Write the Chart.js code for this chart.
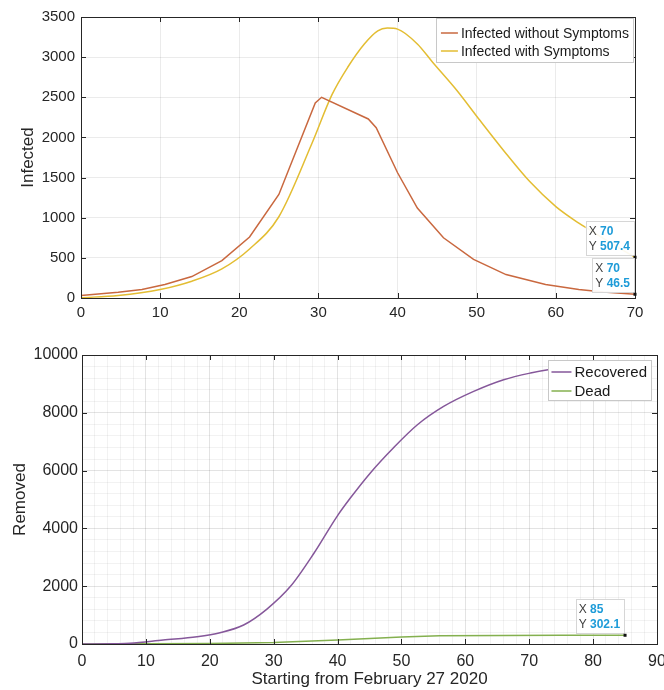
<!DOCTYPE html>
<html>
<head>
<meta charset="utf-8">
<script src="https://cdn.jsdelivr.net/npm/chart.js@4"></script>
<style>
  body { margin: 0; background: #fff; }
  .box { position: absolute; left: 0; width: 664px; }
</style>
</head>
<body>
<div class="box" style="top:0;height:330px"><canvas id="infChart"></canvas></div>
<div class="box" style="top:330px;height:360px"><canvas id="remChart"></canvas></div>
<script>
// top plot: infected
var asymDays = [0, 4.7, 7.7, 10.6, 14, 17.8, 21.3, 25, 29.6, 30.4, 36.3, 37.3, 40, 42.5, 45.8, 49.6, 53.7, 58.7, 62.9, 66, 70]
var asymCases = [31, 72, 106, 168, 267, 466, 760, 1290, 2430, 2500, 2230, 2120, 1560, 1120, 750, 480, 292, 169, 107, 75, 46.5]
var symDays = [0, 4.7, 10, 14, 17.8, 21.3, 25, 29.2, 31.7, 33.7, 35.8, 37.5, 38.7, 40, 42.5, 44.4, 47.5, 50.4, 53.7, 56.7, 60, 62.9, 64.6, 67, 70]
var symCases = [3, 31, 106, 209, 363, 611, 1012, 1930, 2530, 2874, 3164, 3328, 3362, 3349, 3164, 2940, 2585, 2213, 1800, 1450, 1139, 933, 829, 680, 507.4]
var infLabels = ['Infected without Symptoms', 'Infected with Symptoms']
var infTipX = [70, 70]
var infTipY = [507.4, 46.5]

// bottom plot: removed
var recDays = [0, 5, 7.5, 12.7, 18, 21.6, 25.3, 28.9, 32.6, 36.3, 39.9, 42, 45.1, 48.8, 52.5, 56.6, 61.3, 66, 70.2, 73.9, 79, 85]
var recovered = [0, 10, 23, 139, 254, 392, 658, 1200, 1986, 3140, 4410, 5050, 5912, 6800, 7586, 8220, 8740, 9144, 9376, 9525, 9660, 9760]
var deadDays = [0, 10, 20, 30, 40, 46.7, 50, 56, 66, 75, 85]
var dead = [0, 5, 15, 50, 140, 205, 240, 282, 298, 301, 302.1]
var remLabels = ['Recovered', 'Dead']
var remTipX = [85]
var remTipY = [302.1]

var FONT = '"Liberation Sans", Arial, sans-serif'
Chart.defaults.font.family = FONT
Chart.defaults.color = '#262626'

function pts(xs, ys) {
  return xs.map(function (x, i) { return {x: x, y: ys[i]} })
}

// matlab-ish box, inward ticks, legend and data tips
var frame = {
  id: 'frame',
  afterDatasetsDraw: function (chart, args, o) {
    var ctx = chart.ctx, a = chart.chartArea
    var xs = chart.scales.x, ys = chart.scales.y
    ctx.save()
    ctx.strokeStyle = '#262626'
    ctx.lineWidth = 1
    ctx.strokeRect(Math.round(a.left) + 0.5, Math.round(a.top) + 0.5, Math.round(a.right - a.left), Math.round(a.bottom - a.top))
    ctx.beginPath()
    xs.ticks.forEach(function (t) {
      if (t.value % o.majorX) return
      var p = Math.round(xs.getPixelForValue(t.value)) + 0.5
      ctx.moveTo(p, a.bottom); ctx.lineTo(p, a.bottom - 5)
      ctx.moveTo(p, a.top); ctx.lineTo(p, a.top + 5)
    })
    ys.ticks.forEach(function (t) {
      if (t.value % o.majorY) return
      var p = Math.round(ys.getPixelForValue(t.value)) + 0.5
      ctx.moveTo(a.left, p); ctx.lineTo(a.left + 5, p)
      ctx.moveTo(a.right, p); ctx.lineTo(a.right - 5, p)
    })
    ctx.stroke()

    // legend
    var lg = o.legend
    ctx.font = lg.size + 'px ' + FONT
    var tw = 0
    chart.data.datasets.forEach(function (d) { tw = Math.max(tw, ctx.measureText(d.label).width) })
    var w = lg.padL + lg.line + 3 + tw + lg.padR
    var lx = a.right - lg.right - w, ly = a.top + lg.top
    ctx.fillStyle = '#fff'
    ctx.fillRect(lx, ly, w, lg.h)
    ctx.strokeStyle = '#c8c8c8'
    ctx.strokeRect(Math.round(lx) + 0.5, Math.round(ly) + 0.5, Math.round(w), lg.h)
    chart.data.datasets.forEach(function (d, i) {
      var yy = ly + lg.rows[i]
      ctx.strokeStyle = d.borderColor
      ctx.lineWidth = 1.5
      ctx.beginPath()
      ctx.moveTo(lx + lg.padL, yy); ctx.lineTo(lx + lg.padL + lg.line, yy)
      ctx.stroke()
      ctx.fillStyle = '#1a1a1a'
      ctx.textBaseline = 'middle'
      ctx.fillText(d.label, lx + lg.padL + lg.line + 3, yy + 1)
    })

    // data tips, box sits just above-left of the point
    o.tipX.forEach(function (tx, i) {
      var px = xs.getPixelForValue(tx), py = ys.getPixelForValue(o.tipY[i])
      var v1 = String(tx), v2 = String(o.tipY[i])
      ctx.font = '12px ' + FONT
      var wx = ctx.measureText('X ').width, wy = ctx.measureText('Y ').width
      ctx.font = 'bold 12px ' + FONT
      var bw = Math.max(wx + ctx.measureText(v1).width, wy + ctx.measureText(v2).width) + 7
      var bh = 34
      var bx = px - bw - 1, by = py - bh - 2
      ctx.fillStyle = 'rgba(255,255,255,0.92)'
      ctx.fillRect(bx, by, bw, bh)
      ctx.strokeStyle = '#d6d6d6'
      ctx.lineWidth = 1
      ctx.strokeRect(Math.round(bx) + 0.5, Math.round(by) + 0.5, Math.round(bw), bh)
      ctx.textBaseline = 'middle'
      ctx.font = '12px ' + FONT
      ctx.fillStyle = '#404040'
      ctx.fillText('X ', bx + 3, by + 10)
      ctx.fillText('Y ', bx + 3, by + 25)
      ctx.font = 'bold 12px ' + FONT
      ctx.fillStyle = '#1d9bd8'
      ctx.fillText(v1, bx + 3 + wx, by + 10)
      ctx.fillText(v2, bx + 3 + wy, by + 25)
      ctx.fillStyle = '#111'
      ctx.fillRect(px - 1.5, py - 1.5, 3, 3)
    })
    ctx.restore()
  }
}

function lineSet(label, data, color, smooth) {
  var d = {label: label, data: data, borderColor: color, backgroundColor: color,
    borderWidth: 1.5, pointRadius: 0, tension: 0, fill: false}
  if (smooth) d.cubicInterpolationMode = 'monotone'
  return d
}

new Chart(document.getElementById('infChart'), {
  type: 'line',
  data: {
    datasets: [
      lineSet(infLabels[0], pts(asymDays, asymCases), '#c9683f', false),
      lineSet(infLabels[1], pts(symDays, symCases), '#e3bd32', true)
    ]
  },
  plugins: [frame],
  options: {
    responsive: true,
    maintainAspectRatio: false,
    animation: false,
    events: [],
    layout: {padding: {left: 14, right: 29, top: 17, bottom: 0}},
    scales: {
      x: {
        type: 'linear', min: 0, max: 70,
        border: {display: false},
        grid: {color: 'rgba(0,0,0,0.08)', drawTicks: false},
        ticks: {stepSize: 10, padding: 6, maxRotation: 0, font: {size: 15}},
        afterFit: function (s) { s.height = 32; s.paddingLeft = 0; s.paddingRight = 0 }
      },
      y: {
        min: 0, max: 3500,
        border: {display: false},
        grid: {color: 'rgba(0,0,0,0.08)', drawTicks: false},
        ticks: {stepSize: 500, padding: 6, font: {size: 15}, callback: function (v) { return String(v) }},
        title: {display: true, text: 'Infected', font: {size: 17}, padding: {top: 4, bottom: 0}},
        afterFit: function (s) { s.width = 67; s.paddingTop = 0; s.paddingBottom = 0 }
      }
    },
    plugins: {
      legend: {display: false},
      tooltip: {enabled: false},
      frame: {
        majorX: 10, majorY: 500, tipX: infTipX, tipY: infTipY,
        legend: {size: 14, line: 17, padL: 5, padR: 4, right: 2, top: 1, h: 44, rows: [15, 33]}
      }
    }
  }
})

new Chart(document.getElementById('remChart'), {
  type: 'line',
  data: {
    datasets: [
      lineSet(remLabels[0], pts(recDays, recovered), '#85579a', true),
      lineSet(remLabels[1], pts(deadDays, dead), '#84b04f', false)
    ]
  },
  plugins: [frame],
  options: {
    responsive: true,
    maintainAspectRatio: false,
    animation: false,
    events: [],
    layout: {padding: {left: 6, right: 7, top: 25, bottom: 0}},
    scales: {
      x: {
        type: 'linear', min: 0, max: 90,
        border: {display: false},
        grid: {
          drawTicks: false,
          color: function (c) { return c.tick.value % 10 ? 'rgba(0,0,0,0.05)' : 'rgba(0,0,0,0.11)' }
        },
        ticks: {
          stepSize: 2, padding: 8, maxRotation: 0, autoSkip: false, font: {size: 16},
          callback: function (v) { return v % 10 ? '' : String(v) }
        },
        title: {display: true, text: 'Starting from February 27 2020', font: {size: 17}, padding: {top: 0, bottom: 0}},
        afterFit: function (s) { s.height = 46; s.paddingLeft = 0; s.paddingRight = 0 }
      },
      y: {
        min: 0, max: 10000,
        border: {display: false},
        grid: {
          drawTicks: false,
          color: function (c) { return c.tick.value % 2000 ? 'rgba(0,0,0,0.05)' : 'rgba(0,0,0,0.11)' }
        },
        ticks: {
          stepSize: 400, padding: 4, autoSkip: false, font: {size: 16},
          callback: function (v) { return v % 2000 ? '' : String(v) }
        },
        title: {display: true, text: 'Removed', font: {size: 17}, padding: {top: 4, bottom: 0}},
        afterFit: function (s) { s.width = 76; s.paddingTop = 0; s.paddingBottom = 0 }
      }
    },
    plugins: {
      legend: {display: false},
      tooltip: {enabled: false},
      frame: {
        majorX: 10, majorY: 2000, tipX: remTipX, tipY: remTipY,
        legend: {size: 15, line: 20, padL: 3, padR: 4, right: 6, top: 5, h: 40, rows: [12, 31]}
      }
    }
  }
})
</script>
</body>
</html>
